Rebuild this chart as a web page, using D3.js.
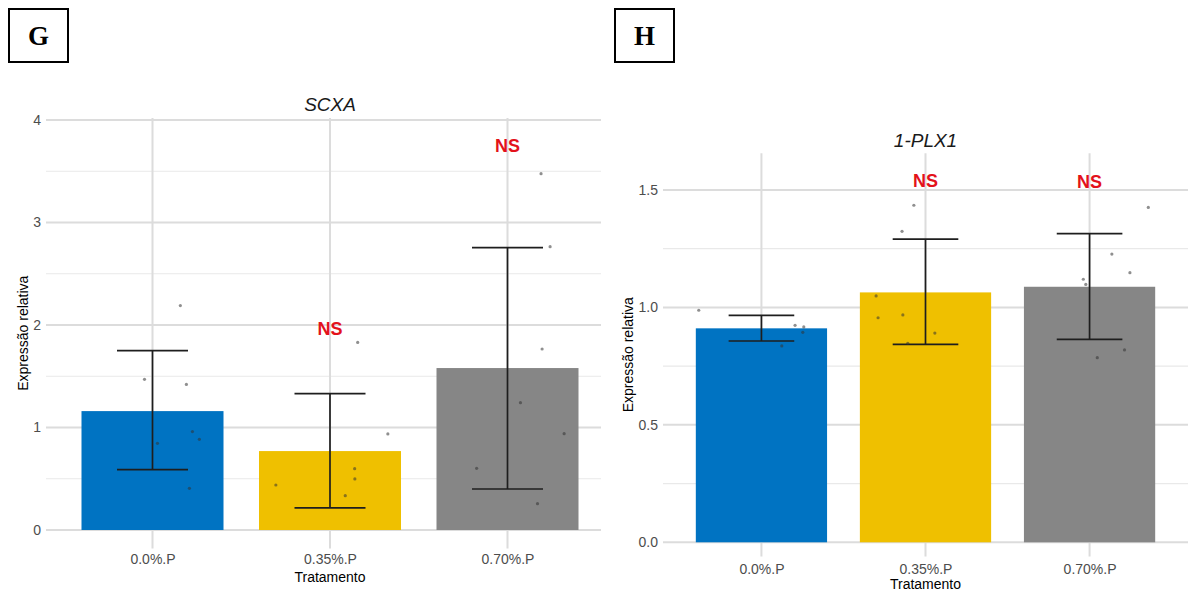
<!DOCTYPE html>
<html>
<head>
<meta charset="utf-8">
<script src="https://cdn.jsdelivr.net/npm/d3@7"></script>
<style>
  html, body { margin: 0; padding: 0; background: #fff; }
  svg { display: block; font-family: "Liberation Sans", Arial, sans-serif; }
</style>
</head>
<body>
<svg id="chart" width="1188" height="594"></svg>
<script>
// categories shared by both panels
var categories = ["0.0%.P", "0.35%.P", "0.70%.P"];

// panel G : SCXA
var scxaMean = [1.16, 0.77, 1.58];
var scxaLow = [0.59, 0.215, 0.40];
var scxaHigh = [1.75, 1.33, 2.755];
var scxaSig = ["", "NS", "NS"];
var scxaSigY = [0, 1.97, 3.75];
var scxaPoints = [
  [2.19, 1.47, 1.42, 0.96, 0.885, 0.846, 0.407],
  [1.83, 0.937, 0.598, 0.498, 0.439, 0.335],
  [3.476, 2.764, 1.766, 1.242, 0.94, 0.602, 0.257]
];
// jitter, in category units
var scxaJitter = [
  [0.157, -0.045, 0.191, 0.225, 0.264, 0.028, 0.208],
  [0.156, 0.326, 0.139, 0.140, -0.305, 0.086],
  [0.189, 0.240, 0.195, 0.073, 0.319, -0.174, 0.169]
];
var scxaTicks = [0, 1, 2, 3, 4];
var scxaMinor = [0.5, 1.5, 2.5, 3.5];

// panel H : 1-PLX1
var plxMean = [0.911, 1.064, 1.088];
var plxLow = [0.857, 0.843, 0.864];
var plxHigh = [0.966, 1.291, 1.314];
var plxSig = ["", "NS", "NS"];
var plxSigY = [0, 1.54, 1.535];
var plxPoints = [
  [0.988, 0.924, 0.917, 0.894, 0.836],
  [1.435, 1.324, 1.049, 0.956, 0.968, 0.891, 0.847],
  [1.426, 1.227, 1.148, 1.12, 1.098, 0.819, 0.786]
];
var plxJitter = [
  [-0.382, 0.205, 0.258, 0.252, 0.124],
  [-0.071, -0.143, -0.301, -0.289, -0.138, 0.057, -0.108],
  [0.358, 0.136, 0.246, -0.038, -0.023, 0.213, 0.047]
];
var plxTicks = [0, 0.5, 1.0, 1.5];
var plxMinor = [0.25, 0.75, 1.25];

var palette = ["#0073C2", "#EFC000", "#868686"];

var svg = d3.select("#chart");

function drawPanel(o) {
  var g = svg.append("g");
  var x = d3.scalePoint().domain(categories).range([o.left, o.right]).padding(0.6);
  var y = d3.scaleLinear().domain(o.domain).range(o.yRange);
  var step = x.step();
  var barW = step * 0.8, capW = step * 0.4;
  var gridRight = Math.min(o.right, o.clipRight);

  // grid
  g.selectAll(".minor").data(o.minor).enter().append("line")
    .attr("x1", o.left).attr("x2", gridRight)
    .attr("y1", d => y(d)).attr("y2", d => y(d))
    .attr("stroke", "#e9e9e9").attr("stroke-width", 1.2);
  g.selectAll(".major").data(o.ticks).enter().append("line")
    .attr("x1", o.left).attr("x2", gridRight)
    .attr("y1", d => y(d)).attr("y2", d => y(d))
    .attr("stroke", "#dcdcdc").attr("stroke-width", 2);
  g.selectAll(".vgrid").data(categories).enter().append("line")
    .attr("x1", d => x(d)).attr("x2", d => x(d))
    .attr("y1", y(o.panelTop)).attr("y2", y(o.panelBottom))
    .attr("stroke", "#dcdcdc").attr("stroke-width", 2);

  // bars
  g.selectAll(".bar").data(o.mean).enter().append("rect")
    .attr("x", (d, i) => x(categories[i]) - barW / 2)
    .attr("width", barW)
    .attr("y", d => y(d))
    .attr("height", d => y(0) - y(d))
    .attr("fill", (d, i) => palette[i]);

  // error bars
  var eb = g.selectAll(".eb").data(categories).enter().append("g")
    .attr("stroke", "#1e1e1e").attr("stroke-width", 1.7);
  eb.append("line")
    .attr("x1", d => x(d)).attr("x2", d => x(d))
    .attr("y1", (d, i) => y(o.low[i])).attr("y2", (d, i) => y(o.high[i]));
  eb.append("line")
    .attr("x1", d => x(d) - capW / 2).attr("x2", d => x(d) + capW / 2)
    .attr("y1", (d, i) => y(o.high[i])).attr("y2", (d, i) => y(o.high[i]));
  eb.append("line")
    .attr("x1", d => x(d) - capW / 2).attr("x2", d => x(d) + capW / 2)
    .attr("y1", (d, i) => y(o.low[i])).attr("y2", (d, i) => y(o.low[i]));

  // jittered points
  var pts = [];
  o.points.forEach(function(arr, i) {
    arr.forEach(function(v, j) {
      pts.push({ cat: categories[i], v: v, j: o.jitter[i][j] });
    });
  });
  g.selectAll(".pt").data(pts).enter().append("circle")
    .attr("cx", d => x(d.cat) + d.j * step)
    .attr("cy", d => y(d.v))
    .attr("r", 1.6)
    .attr("fill", "#333").attr("fill-opacity", 0.55);

  // significance labels
  g.selectAll(".sig").data(categories.filter((d, i) => o.sig[i])).enter().append("text")
    .attr("x", d => x(d))
    .attr("y", d => y(o.sigY[categories.indexOf(d)]))
    .attr("dy", "0.36em")
    .attr("text-anchor", "middle")
    .attr("font-size", 18).attr("font-weight", "bold")
    .attr("fill", "#e3121b")
    .text(d => o.sig[categories.indexOf(d)]);

  // y axis
  var ya = g.append("g").attr("transform", "translate(" + o.left + ",0)")
    .call(d3.axisLeft(y).tickValues(o.ticks).tickSize(0).tickPadding(5).tickFormat(o.fmt));
  ya.select(".domain").remove();
  ya.selectAll("text").attr("font-size", 14).attr("fill", "#4d4d4d")
    .attr("font-family", "Liberation Sans, Arial, sans-serif");

  // x axis
  var xa = g.append("g").attr("transform", "translate(0," + y(0) + ")")
    .call(d3.axisBottom(x).tickSize(0).tickPadding(o.xPad));
  xa.select(".domain").remove();
  xa.selectAll("text").attr("font-size", 14).attr("fill", "#4d4d4d")
    .attr("font-family", "Liberation Sans, Arial, sans-serif");

  // titles
  var cx = (o.left + o.right) / 2;
  g.append("text").attr("x", cx).attr("y", o.titleY)
    .attr("text-anchor", "middle").attr("font-size", 19)
    .attr("font-style", "italic").attr("fill", "#1a1a1a").text(o.title);
  g.append("text").attr("x", cx).attr("y", o.xTitleY)
    .attr("text-anchor", "middle").attr("font-size", 14)
    .attr("fill", "#000").text("Tratamento");
  var my = (y(o.panelTop) + y(o.panelBottom)) / 2;
  g.append("text")
    .attr("transform", "translate(" + o.yTitleX + "," + my + ") rotate(-90)")
    .attr("text-anchor", "middle").attr("font-size", 14)
    .attr("fill", "#000").text("Expressão relativa");

  // panel letter box
  g.append("rect").attr("x", o.boxX).attr("y", 9).attr("width", 59).attr("height", 53)
    .attr("fill", "#fff").attr("stroke", "#000").attr("stroke-width", 2);
  g.append("text").attr("x", o.boxX + 29.5).attr("y", 45)
    .attr("text-anchor", "middle").attr("font-size", 27).attr("font-weight", "bold")
    .attr("font-family", "Liberation Serif, Times New Roman, serif")
    .attr("fill", "#000").text(o.letter);
}

drawPanel({
  letter: "G", boxX: 9, title: "SCXA", titleY: 111,
  left: 46, right: 614, clipRight: 601,
  domain: [0, 4], yRange: [530, 120], panelTop: 4.02, panelBottom: -0.18,
  ticks: scxaTicks, minor: scxaMinor, fmt: d3.format("d"),
  mean: scxaMean, low: scxaLow, high: scxaHigh,
  sig: scxaSig, sigY: scxaSigY, points: scxaPoints, jitter: scxaJitter,
  xPad: 24, xTitleY: 582, yTitleX: 28
});

drawPanel({
  letter: "H", boxX: 615, title: "1-PLX1", titleY: 147,
  left: 663, right: 1188, clipRight: 1188,
  domain: [0, 1.5], yRange: [542.3, 190], panelTop: 1.657, panelBottom: -0.06,
  ticks: plxTicks, minor: plxMinor, fmt: d3.format(".1f"),
  mean: plxMean, low: plxLow, high: plxHigh,
  sig: plxSig, sigY: plxSigY, points: plxPoints, jitter: plxJitter,
  xPad: 22, xTitleY: 589, yTitleX: 633
});
</script>
</body>
</html>
